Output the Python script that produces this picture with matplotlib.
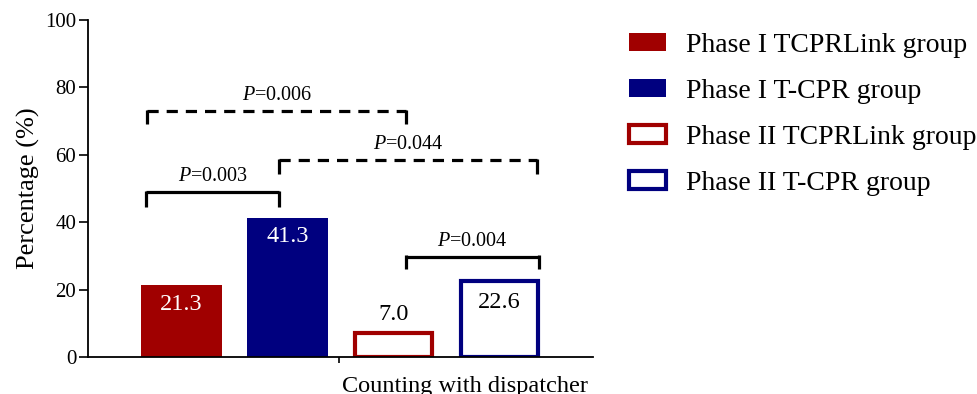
import matplotlib
matplotlib.use("Agg")
import matplotlib.pyplot as plt
from matplotlib.patches import Patch

plt.rcParams['font.family'] = ['Liberation Serif', 'DejaVu Serif']
plt.rcParams['mathtext.fontset'] = 'custom'
plt.rcParams['mathtext.rm'] = 'Liberation Serif'
plt.rcParams['mathtext.it'] = 'Liberation Serif:italic'

groups = ["Phase I TCPRLink group", "Phase I T-CPR group",
          "Phase II TCPRLink group", "Phase II T-CPR group"]
values = [21.3, 41.3, 7.0, 22.6]
xlabel = "Counting with dispatcher"
yticks = [0, 20, 40, 60, 80, 100]
# comparisons: (x_left, x_right, y_top, leg_drop, text, dashed)
comparisons = [
    (-0.33, 0.92, 49.0, 4.5, "0.003", False),
    (-0.32, 2.12, 73.0, 4.0, "0.006", True),
    (0.92, 3.35, 58.5, 4.2, "0.044", True),
    (2.12, 3.37, 29.8, 3.8, "0.004", False),
]

red = '#A00000'
blue = '#00007F'

fig = plt.figure(figsize=(9.78, 3.94), dpi=100)
ax = fig.add_axes([88/978, 1-357/394, (593-88)/978, (357-20)/394])

xs = [0, 1, 2, 3]
w = 0.76
ax.bar(xs[0], values[0], width=w, color=red, edgecolor='none')
ax.bar(xs[1], values[1], width=w, color=blue, edgecolor='none')
ax.bar(xs[2], values[2], width=w-0.035, color='white', edgecolor=red, linewidth=3)
ax.bar(xs[3], values[3], width=w-0.035, color='white', edgecolor=blue, linewidth=3)

ax.text(xs[0], values[0]-5.8, f"{values[0]:.1f}", color='white', ha='center', va='center', fontsize=17.5)
ax.text(xs[1], values[1]-5.4, f"{values[1]:.1f}", color='white', ha='center', va='center', fontsize=17.5)
ax.text(xs[2], values[2]+5.5, f"{values[2]:.1f}", color='black', ha='center', va='center', fontsize=17.5)
ax.text(xs[3], values[3]-6.4, f"{values[3]:.1f}", color='black', ha='center', va='center', fontsize=17.5)

for xl, xr, yt, d, t, dashed in comparisons:
    ls = (0, (3.5, 2.5)) if dashed else '-'
    ax.plot([xl, xr], [yt, yt], color='black', lw=2.3, ls=ls, solid_capstyle='butt', dash_capstyle='butt')
    ax.plot([xl, xl], [yt+0.35, yt-d], color='black', lw=2.3, solid_capstyle='butt')
    ax.plot([xr, xr], [yt+0.35, yt-d], color='black', lw=2.3, solid_capstyle='butt')
    ax.text((xl+xr)/2, yt+1.7, r"$\it{P}$=" + t, ha='center', va='bottom', fontsize=14.5)

ax.set_xlim(-0.88, 3.88)
ax.set_ylim(0, 100)
ax.set_yticks(yticks)
ax.set_xticks([1.49])
ax.set_xticklabels([""])
ax.tick_params(axis='y', labelsize=15, length=6.5, width=1.2, pad=2)
ax.tick_params(axis='x', length=4, width=1.2)
for s in ['top', 'right']:
    ax.spines[s].set_visible(False)
for s in ['left', 'bottom']:
    ax.spines[s].set_linewidth(1.3)
ax.set_ylabel("Percentage (%)", fontsize=19, labelpad=4)
ax.text(2.67, -5.5, xlabel, ha='center', va='top', fontsize=17.5)

handles = [
    Patch(facecolor=red, edgecolor='none'),
    Patch(facecolor=blue, edgecolor='none'),
    Patch(facecolor='white', edgecolor=red, linewidth=3),
    Patch(facecolor='white', edgecolor=blue, linewidth=3),
]
fig.legend(handles, groups, loc='upper left', bbox_to_anchor=(618/978, 1-22/394),
           frameon=False, fontsize=20, handlelength=1.33, handleheight=0.62,
           handletextpad=0.72, labelspacing=0.75, borderaxespad=0)

fig.savefig("out.png", dpi=100)
